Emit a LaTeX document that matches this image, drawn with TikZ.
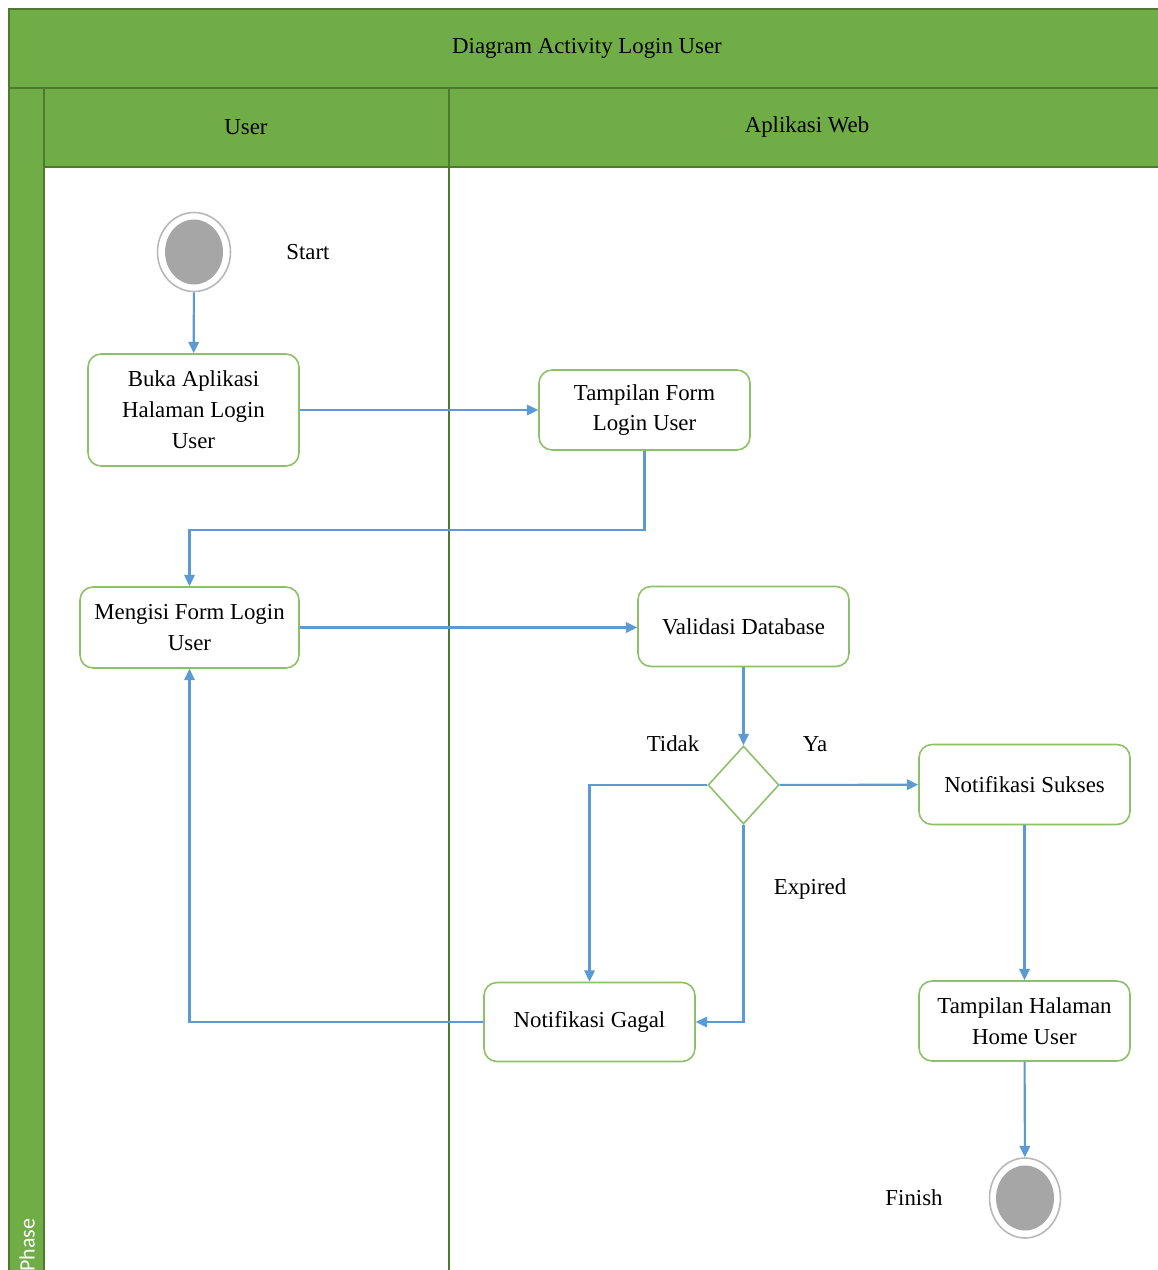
\documentclass[tikz,border=0pt]{standalone}
\usepackage{fontspec}
\setmainfont{Liberation Serif}
\newfontfamily\phasefont{Carlito}
\usetikzlibrary{arrows.meta,shapes.geometric}
\definecolor{hdrgreen}{HTML}{70AD47}
\definecolor{hdrline}{HTML}{4E7A30}
\definecolor{boxgreen}{HTML}{8CC168}
\definecolor{flowblue}{HTML}{5B9BD5}
\definecolor{dotgray}{HTML}{A6A6A6}
\tikzset{
  txt/.style={font=\fontsize{13}{17.6}\selectfont, align=center, text=black},
  actbox/.style={txt, draw=boxgreen, line width=0.9pt, rounded corners=0.26cm, fill=white,
    minimum width=4.22cm, minimum height=1.6cm, inner sep=2pt},
  decis/.style={diamond, draw=boxgreen, line width=0.9pt, fill=white, inner sep=0pt,
    minimum width=1.42cm, minimum height=1.56cm},
  flow/.style={draw=flowblue, line width=1.2pt, -{Triangle[length=6.5pt,width=6pt]}},
  ringout/.style={ellipse, draw=dotgray!80, line width=0.9pt, fill=white, inner sep=0pt},
  ringin/.style={ellipse, fill=dotgray, inner sep=0pt},
  grid/.style={draw=hdrline, line width=1pt}
}
\begin{document}
\begin{tikzpicture}[x=0.02cm, y=-0.02cm]
\clip (0,0) rectangle (1158,1270);
\fill[white] (0,0) rectangle (1158,1270);
% swimlane frame
\fill[hdrgreen] (9,9) rectangle (1180,167);
\fill[hdrgreen] (9,88) rectangle (44,1290);
\draw[grid] (9,1290) -- (9,9) -- (1180,9);
\draw[grid] (9,88) -- (1180,88);
\draw[grid] (44,167) -- (1180,167);
\draw[grid] (44,88) -- (44,1290);
\draw[grid] (449,88) -- (449,1290);
\node[txt] (title) at (587,48) {Diagram Activity Login User};
\node[txt] (laneuser) at (246,127) {User};
\node[txt] (laneweb) at (807,127) {Aplikasi Web};
\node[font=\phasefont\fontsize{12.5}{14}\selectfont, text=white, rotate=90, anchor=west, inner sep=0pt] (phase) at (27,1272) {Phase};
% start
\node[ringout, minimum width=1.46cm, minimum height=1.58cm] (start) at (194,252) {};
\node[ringin, minimum width=1.16cm, minimum height=1.3cm] (startin) at (194,252) {};
\node[txt] (startlbl) at (308,252) {Start};
% activities
\node[actbox, minimum height=2.24cm] (buka) at (193.5,410) {Buka Aplikasi\\Halaman Login\\User};
\node[actbox] (tform) at (644.5,410) {Tampilan Form\\Login User};
\node[actbox, minimum width=4.38cm, minimum height=1.62cm] (isi) at (189.5,627.5) {Mengisi Form Login\\User};
\node[actbox] (valid) at (743.5,626.5) {Validasi Database};
\node[decis] (dec) at (743.5,785) {};
\node[actbox] (sukses) at (1024.5,784.5) {Notifikasi Sukses};
\node[actbox, minimum height=1.58cm] (gagal) at (589.5,1022) {Notifikasi Gagal};
\node[actbox] (home) at (1024.5,1021) {Tampilan Halaman\\Home User};
% finish
\node[ringout, minimum width=1.42cm, minimum height=1.6cm] (finish) at (1025,1198) {};
\node[ringin, minimum width=1.16cm, minimum height=1.3cm] (finishin) at (1025,1198) {};
\node[txt] (finishlbl) at (914,1198) {Finish};
% labels
\node[txt] (tidak) at (673,744) {Tidak};
\node[txt] (ya) at (815,744) {Ya};
\node[txt] (expired) at (810,889) {Expired};
% flows
\draw[flow] (start) -- (buka);
\draw[flow] (buka) -- (tform);
\draw[flow] (tform.south) -- ++(0,79) -| (isi.north);
\draw[flow] (isi.east) -- (valid.west |- isi.east);
\draw[flow] (valid) -- (dec);
\draw[flow] (dec) -- (sukses);
\draw[flow] (dec.west) -| (gagal.north);
\draw[flow] (dec.south) |- (gagal.east);
\draw[flow] (gagal.west) -| (isi.south);
\draw[flow] (sukses) -- (home);
\draw[flow] (home) -- (finish);
\end{tikzpicture}
\end{document}
